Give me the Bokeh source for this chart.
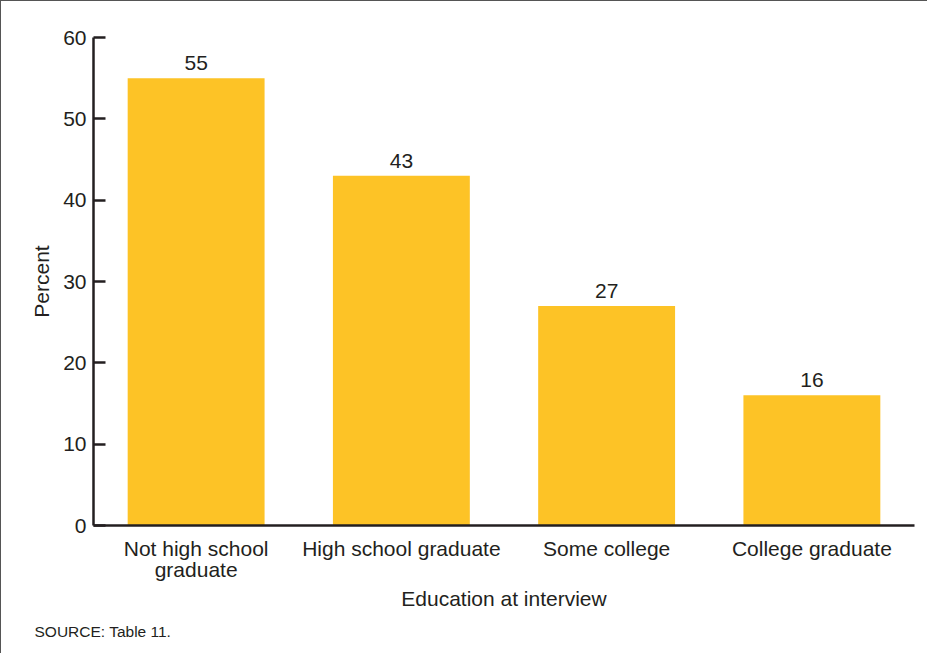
from bokeh.plotting import figure
from bokeh.models import FactorRange, Range1d, FixedTicker, Title, ColumnDataSource
from bokeh.core.properties import value
from bokeh.embed import file_html
from bokeh.resources import INLINE

categories = ["Not high school\ngraduate", "High school graduate", "Some college", "College graduate"]
percents = [55, 43, 27, 16]
y_ticks = [0, 10, 20, 30, 40, 50, 60]

FONT = "Liberation Sans"
INK = "#231f20"
BAR = "#fdc326"

src = ColumnDataSource(dict(cat=categories, pct=percents, lab=[str(v) for v in percents]))

p = figure(
    width=927, height=653,
    x_range=FactorRange(*categories, range_padding=0),
    y_range=Range1d(0, 60),
    output_backend="svg", toolbar_location=None,
    min_border_left=92, min_border_right=14, min_border_top=36, min_border_bottom=129,
)
p.styles = {"border-top": "1.5px solid #555555", "border-left": "1.5px solid #555555"}
p.outline_line_color = None
p.xgrid.grid_line_color = None
p.ygrid.grid_line_color = None

p.vbar(x="cat", top="pct", width=0.667, source=src, fill_color=BAR, line_color=None)
p.text(x="cat", y="pct", text="lab", source=src, text_align="center", text_baseline="bottom",
       y_offset=-8, text_font=value(FONT), text_font_size="21px", text_color=INK)

# y axis
ya = p.yaxis[0]
ya.ticker = FixedTicker(ticks=y_ticks)
ya.axis_label = "Percent"
ya.axis_line_color = INK
ya.axis_line_width = 2.5
ya.major_tick_line_color = INK
ya.major_tick_line_width = 2.5
ya.major_tick_in = 12
ya.major_tick_out = 0
ya.minor_tick_line_color = None
ya.major_label_standoff = 7
ya.axis_label_standoff = 7
ya.major_label_text_font = FONT
ya.major_label_text_font_size = "21px"
ya.major_label_text_color = INK
ya.axis_label_text_font = FONT
ya.axis_label_text_font_size = "21px"
ya.axis_label_text_font_style = "normal"
ya.axis_label_text_color = INK

# x axis
xa = p.xaxis[0]
xa.axis_label = "Education at interview"
xa.axis_line_color = INK
xa.axis_line_width = 2.5
xa.major_tick_line_color = None
xa.major_tick_in = 0
xa.major_tick_out = 0
xa.minor_tick_line_color = None
xa.major_label_standoff = 11
xa.axis_label_standoff = 3
xa.major_label_text_font = FONT
xa.major_label_text_font_size = "21px"
xa.major_label_text_color = INK
xa.major_label_text_line_height = 0.93
xa.axis_label_text_font = FONT
xa.axis_label_text_font_size = "21px"
xa.axis_label_text_font_style = "normal"
xa.axis_label_text_color = INK

note = Title(text="SOURCE: Table 11.", align="left", offset=-59, standoff=16,
             text_font=FONT, text_font_size="15.5px", text_color=INK, text_font_style="normal")
p.add_layout(note, "below")

open("out.html", "w").write(file_html(p, INLINE))
